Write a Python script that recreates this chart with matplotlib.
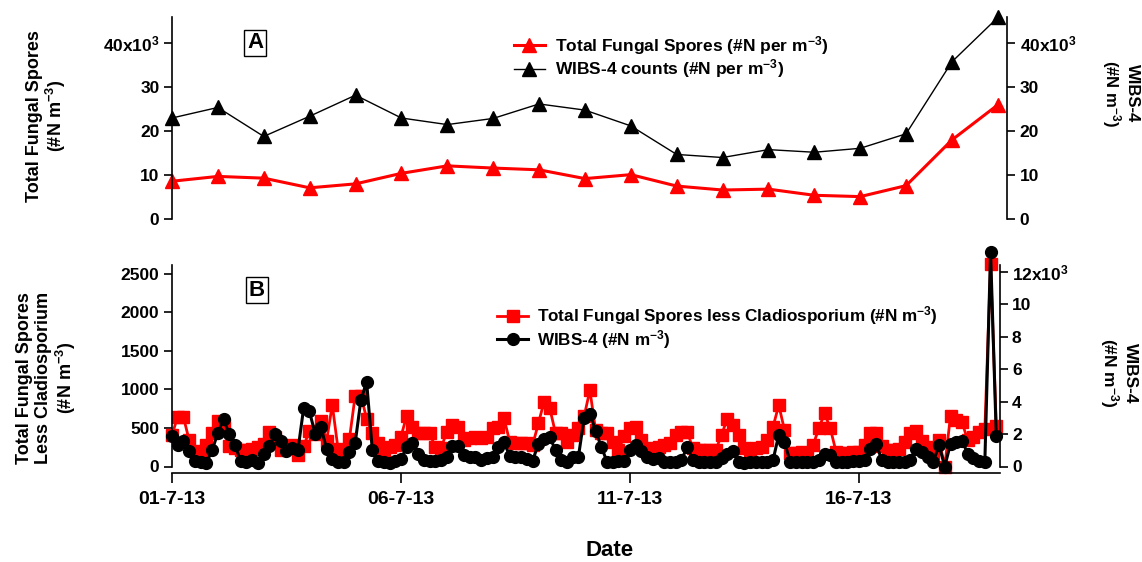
import numpy as np
import matplotlib
matplotlib.use('Agg')
import matplotlib.pyplot as plt
from matplotlib.ticker import FixedLocator, FixedFormatter

plt.rcParams['font.family'] = ['Liberation Sans', 'DejaVu Sans']
plt.rcParams['font.weight'] = 'bold'
plt.rcParams['mathtext.fontset'] = 'custom'
plt.rcParams['mathtext.rm'] = 'Liberation Sans:bold'
plt.rcParams['mathtext.it'] = 'Liberation Sans:bold'
plt.rcParams['mathtext.bf'] = 'Liberation Sans:bold'
plt.rcParams['mathtext.default'] = 'rm'

# --- panel A: daily totals (#N per m-3), 01-7-13 .. 19-7-13
day_a = np.arange(19)
spores_a = [8600, 9700, 9300, 7100, 8000, 10400, 12100, 11600, 11200, 9200,
            10100, 7500, 6600, 6800, 5400, 5100, 7600, 18000, 26000]
wibs_a = [23000, 25400, 18800, 23400, 28200, 23000, 21500, 22900, 26200, 24800,
          21200, 14700, 14000, 15800, 15200, 16100, 19400, 35800, 45900]

# --- panel B: 3-hourly values
hours_b = np.arange(0, 145 * 3, 3)
spores_b = [410, 645, 640, 340, 200, 175, 280, 430, 590, 540, 265, 235, 214, 214, 222, 257,
            291, 450, 386, 214, 265, 278, 150, 265,
            460, 420, 590, 330, 800, 230, 200, 360, 920, 920, 620, 430, 300, 192, 257, 278,
            386, 660, 516, 430, 430, 430, 257, 235,
            451, 538, 516, 344, 365, 387, 373, 387, 495, 516, 624, 322, 300, 300, 300, 278,
            560, 840, 755, 430, 430, 322, 408, 495, 650, 990,
            470, 430, 430, 320, 215, 390, 495, 516, 344, 236, 215, 257, 278, 300, 408, 450,
            450, 236, 215, 215, 215, 215, 408, 620,
            540, 408, 236, 215, 236, 257, 344, 516, 796, 473, 171, 171, 184, 171, 278, 495,
            689, 495, 193, 171, 171, 184, 184, 278, 430,
            430, 260, 220, 220, 230, 320, 440, 460, 330, 250, 170, 340, 0, 660, 600, 580,
            340, 380, 450, 480, 2620, 530]
wibs_b = [1850, 1300, 1550, 950, 350, 260, 200, 1000, 2050, 2900, 2000, 1300, 350, 300, 400, 230,
          750, 1270, 2000, 1550, 950, 1150, 1000, 3600,
          3400, 2030, 2450, 1100, 450, 250, 250, 870, 1450, 4100, 5200, 1000, 330, 300, 230, 340,
          460, 1200, 1420, 800, 400, 340, 340, 400,
          600, 1250, 1250, 700, 600, 600, 400, 500, 600, 1200, 1500, 650, 600, 600, 450, 350,
          1400, 1700, 1800, 1000, 400, 300, 600, 600,
          3000, 3250, 2200, 1200, 300, 300, 330, 330, 1000, 1300, 950, 600, 450, 500, 300, 300,
          260, 400, 1200, 400, 300, 300, 300, 300, 500, 800,
          950, 300, 200, 300, 260, 300, 300, 400, 1950, 1500, 300, 260, 300, 300, 300, 400,
          800, 700, 300, 260, 260, 330, 330, 400, 1100,
          1400, 400, 300, 300, 300, 300, 400, 1100, 900, 600, 300, 1300, 0, 1400, 1500, 1600,
          800, 500, 350, 300, 13200, 1850]

date_ticks = [0, 5, 10, 15]
date_labels = ['01-7-13', '06-7-13', '11-7-13', '16-7-13']

W, H = 1142, 562
fig = plt.figure(figsize=(W / 100, H / 100), dpi=100)


def box(l, t, r, b):
    return [l / W, 1 - b / H, (r - l) / W, (b - t) / H]


def style(ax, side):
    for s in ['top', 'bottom', 'left', 'right']:
        ax.spines[s].set_visible(False)
    ax.spines[side].set_visible(True)
    ax.spines[side].set_linewidth(1.2)
    ax.tick_params(axis='y', direction='out', length=6, width=1.2, labelsize=12.5, pad=3)
    ax.tick_params(axis='x', bottom=False, labelbottom=False)


# ---------------- panel A
axA = fig.add_axes(box(172, 17, 1007, 219))
axA2 = axA.twinx()
style(axA, 'left')
style(axA2, 'right')
axA.set_xlim(0, 18.2)
for a in (axA, axA2):
    a.set_ylim(0, 46000)
    a.yaxis.set_major_locator(FixedLocator([0, 10000, 20000, 30000, 40000]))
    a.yaxis.set_major_formatter(FixedFormatter(['0', '10', '20', '30', '40x10$^{3}$']))
axA2.set_zorder(axA.get_zorder() - 1)
axA.patch.set_visible(False)

lA1, = axA.plot(day_a, spores_a, color='red', lw=2.2, marker='^', ms=10, clip_on=False,
                label='Total Fungal Spores (#N per m$^{-3}$)')
lA2, = axA2.plot(day_a, wibs_a, color='black', lw=1.0, marker='^', ms=10, clip_on=False,
                 label='WIBS-4 counts (#N per m$^{-3}$)')
axA.legend([lA1, lA2], [lA1.get_label(), lA2.get_label()], loc='upper left',
           bbox_to_anchor=(498 / W, 1 - 18 / H), bbox_transform=fig.transFigure,
           frameon=False, fontsize=12.5, handlelength=1.8, handletextpad=0.6,
           labelspacing=0.05)

# ---------------- panel B
axB = fig.add_axes(box(172, 265, 999.5, 466.5))
axB2 = axB.twinx()
style(axB, 'left')
style(axB2, 'right')
axB.spines['bottom'].set_visible(True)
axB.spines['bottom'].set_linewidth(1.2)
axB.spines['bottom'].set_position(('outward', 5))
axB.tick_params(axis='x', bottom=True, labelbottom=True, direction='out', length=7,
                width=1.2, labelsize=14, pad=6)
axB.set_xlim(0, 18.07)
axB.set_xticks(date_ticks)
axB.set_xticklabels(date_labels)
axB.set_ylim(0, 2613)
axB.set_yticks([0, 500, 1000, 1500, 2000, 2500])
axB2.set_ylim(0, 12400)
axB2.yaxis.set_major_locator(FixedLocator([0, 2000, 4000, 6000, 8000, 10000, 12000]))
axB2.yaxis.set_major_formatter(FixedFormatter(['0', '2', '4', '6', '8', '10', '12x10$^{3}$']))

days_b = hours_b / 24
lB1, = axB.plot(days_b, spores_b, color='red', lw=2.0, marker='s', ms=8, clip_on=False,
                label='Total Fungal Spores less Cladiosporium (#N m$^{-3}$)')
lB2, = axB2.plot(days_b, wibs_b, color='black', lw=2.2, marker='o', ms=8.5, clip_on=False,
                 label='WIBS-4 (#N m$^{-3}$)')
axB2.legend([lB1, lB2], [lB1.get_label(), lB2.get_label()], loc='upper left',
            bbox_to_anchor=(482 / W, 1 - 289 / H), bbox_transform=fig.transFigure,
            frameon=False, fontsize=12.3, handlelength=1.8, handletextpad=0.5,
            labelspacing=0.05)

# panel letters
for lab, (px, py) in [('A', (255, 43)), ('B', (257, 290))]:
    fig.text(px / W, 1 - py / H, lab, ha='center', va='center', fontsize=16,
             bbox=dict(boxstyle='square,pad=0.12', fc='white', ec='black', lw=1))

# axis titles
fig.text(47 / W, 1 - 116 / H, 'Total Fungal Spores\n(#N m$^{-3}$)', rotation=90,
         ha='center', va='center', fontsize=13, linespacing=1.1)
fig.text(47 / W, 1 - 378 / H, 'Total Fungal Spores\nLess Cladiosporium\n(#N m$^{-3}$)',
         rotation=90, ha='center', va='center', fontsize=13, linespacing=1.1)
fig.text(1120 / W, 1 - 93 / H, 'WIBS-4\n(#N m$^{-3}$)', rotation=-90,
         ha='center', va='center', fontsize=12, linespacing=1.1)
fig.text(1118 / W, 1 - 373 / H, 'WIBS-4\n(#N m$^{-3}$)', rotation=-90,
         ha='center', va='center', fontsize=12.5, linespacing=1.1)
fig.text(610 / W, 1 - 551 / H, 'Date', ha='center', va='center', fontsize=16)

fig.savefig('out.png', dpi=100)
